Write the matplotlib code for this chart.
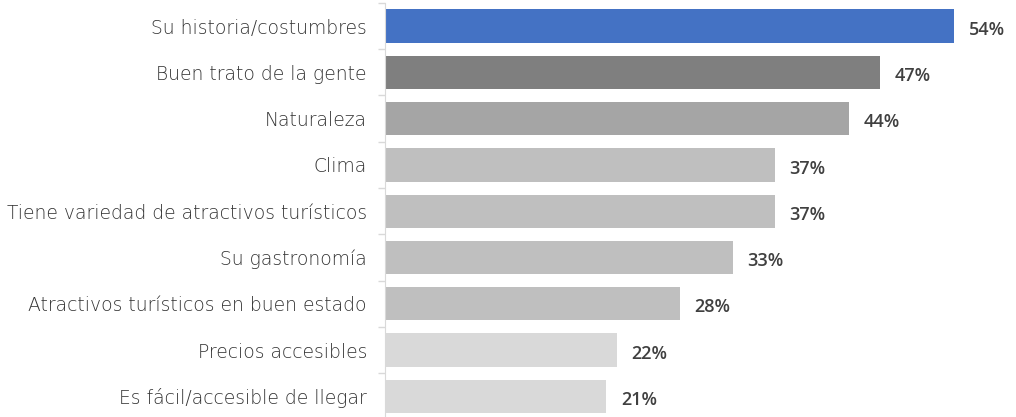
import matplotlib.pyplot as plt
import numpy as np

categories = ['Su historia/costumbres', 'Buen trato de la gente', 'Naturaleza', 'Clima',
              'Tiene variedad de atractivos turísticos', 'Su gastronomía',
              'Atractivos turísticos en buen estado', 'Precios accesibles',
              'Es fácil/accesible de llegar']
values = [54, 47, 44, 37, 37, 33, 28, 22, 21]
colors = ['#4472C4', '#7F7F7F', '#A5A5A5', '#BFBFBF', '#BFBFBF', '#BFBFBF', '#BFBFBF',
          '#D9D9D9', '#D9D9D9']

fig = plt.figure(figsize=(10.16, 4.17), dpi=100)
ax = fig.add_axes([385 / 1016, -0.006, 1 - 385 / 1016, 0.999])

y = np.arange(len(categories))
ax.barh(y, values, height=0.72, color=colors)
for yi, v in zip(y, values):
    ax.text(v + 1.4, yi + 0.08, f'{v}%', va='center', ha='left', fontsize=13,
            fontweight='semibold', color='#404040', family='Open Sans')

ax.set_xlim(0, 59.9)
ax.set_ylim(len(categories) - 0.5, -0.5)
ax.set_yticks(y)
ax.set_yticklabels(categories, fontsize=13.5, color='#333333', family='DejaVu Sans',
                   fontweight='light')
ax.tick_params(axis='y', which='major', length=0, pad=13)
ax.set_yticks(np.arange(-0.5, len(categories), 1), minor=True)
ax.tick_params(axis='y', which='minor', length=5, color='#D9D9D9', width=1)
ax.set_xticks([])
for s in ['top', 'right', 'bottom']:
    ax.spines[s].set_visible(False)
ax.spines['left'].set_color('#D9D9D9')

plt.savefig('out.png', dpi=100)
